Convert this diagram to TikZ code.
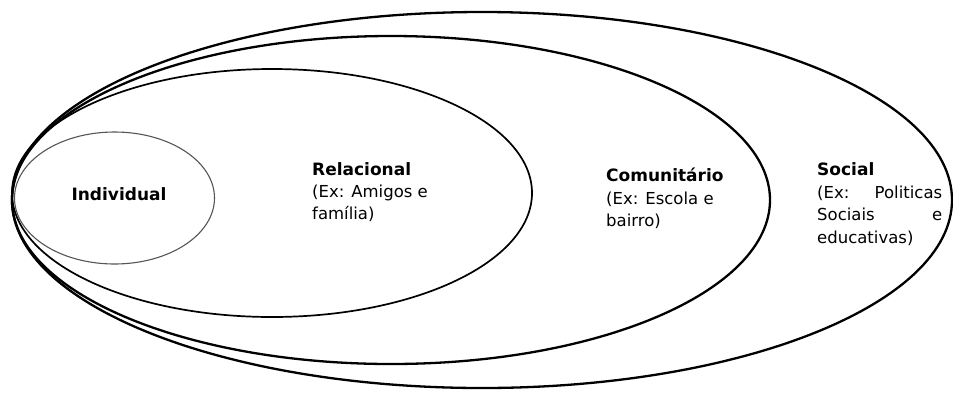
\documentclass[tikz,border=0pt]{standalone}
\usepackage{fontspec}
\setmainfont{DejaVu Sans}
\usepackage{tikz}
\usetikzlibrary{positioning}
\definecolor{ink}{HTML}{000000}
\definecolor{thin}{HTML}{555555}

\tikzset{
  ring/.style={draw=ink,line width=2.3pt},
  ringin/.style={draw=ink,line width=1.7pt},
  ringcore/.style={draw=thin,line width=1.1pt},
  lvl/.style={font=\bfseries\fontsize{17}{22.5}\selectfont,inner sep=0pt},
  lvlex/.style={font=\fontsize{16.5}{22.5}\selectfont,inner sep=0pt,align=left},
}

\begin{document}
\begin{tikzpicture}[x=1pt,y=-1pt]
  \useasboundingbox (0,0) rectangle (953,392);
  % nested levels, all touching on the left
  \draw[ring]     (482,200) ellipse [x radius=470, y radius=188];
  \draw[ring]     (391,200) ellipse [x radius=379, y radius=164];
  \draw[ringin]   (272,193) ellipse [x radius=260, y radius=124];
  \draw[ringcore] (114.5,198) ellipse [x radius=100, y radius=66];
  % labels
  \node[lvl,anchor=base] (ind) at (119,200) {Individual};
  \node[lvl,anchor=base west] (rel) at (312,175) {Relacional};
  \node[lvlex,anchor=north west] (relex) at (312,184.5) {(Ex: Amigos e\\fam\'ilia)};
  \node[lvl,anchor=base west] (com) at (606,181) {Comunit\'ario};
  \node[lvlex,anchor=north west] (comex) at (606,191.5) {(Ex: Escola e\\bairro)};
  \node[lvl,anchor=base west] (soc) at (817,175) {Social};
  \node[lvlex,anchor=north west] (socex) at (817,185.5)
    {\makebox[125pt][s]{(Ex: Politicas}\\\makebox[125pt][s]{Sociais e}\\educativas)};
\end{tikzpicture}
\end{document}
